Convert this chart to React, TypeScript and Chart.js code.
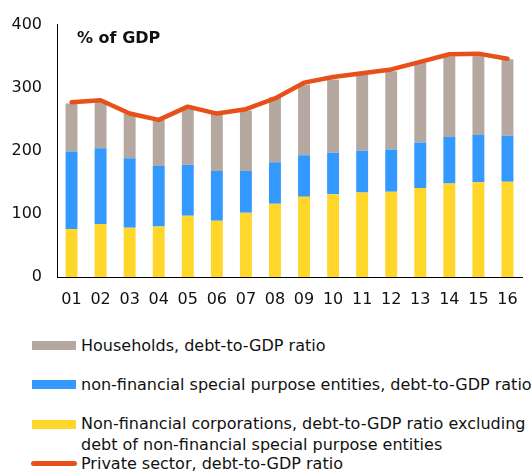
import React, { useEffect, useRef } from 'react';
import { Chart, registerables } from 'chart.js';

Chart.register(...registerables);

const categories = ['01', '02', '03', '04', '05', '06', '07', '08', '09', '10', '11', '12', '13', '14', '15', '16'];
const nfcExSpe = [76, 84, 78, 80, 97, 89, 102, 116, 127, 131, 134, 135, 141, 148, 150, 151];
const nfSpe = [123, 120, 110, 96, 81, 79, 66, 66, 66, 66, 66, 67, 72, 74, 75, 73];
const households = [76, 74, 71, 73, 89, 90, 96, 103, 112, 116, 120, 124, 126, 128, 126, 121];
const privateSector = [277, 280, 259, 249, 270, 259, 266, 283, 308, 317, 323, 329, 341, 353, 354, 346];
const yTicks = [0, 100, 200, 300, 400];

const title = '% of GDP';
const labelHouseholds = 'Households, debt-to-GDP ratio';
const labelSpe = 'non-financial special purpose entities, debt-to-GDP ratio';
const labelNfc = 'Non-financial corporations, debt-to-GDP ratio excluding debt of non-financial special purpose entities';
const labelPrivate = 'Private sector, debt-to-GDP ratio';

const C_GREY = '#B5A8A0';
const C_BLUE = '#3399FF';
const C_YELLOW = '#FFD62A';
const C_ORANGE = '#E8501A';
const FONT = '"DejaVu Sans", sans-serif';

export default function App() {
  const ref = useRef<HTMLCanvasElement | null>(null);

  useEffect(() => {
    if (!ref.current) return;
    const titlePlugin = {
      id: 'titleText',
      afterDraw(chart: any) {
        const ctx = chart.ctx;
        ctx.save();
        ctx.font = 'bold 16px ' + FONT;
        ctx.fillStyle = '#111';
        ctx.textBaseline = 'middle';
        ctx.textAlign = 'left';
        ctx.fillText(title, 77, 39);
        ctx.restore();
      },
    };
    const chart = new Chart(ref.current, {
      type: 'bar',
      data: {
        labels: categories,
        datasets: [
          {
            type: 'line',
            label: labelPrivate,
            data: privateSector,
            borderColor: C_ORANGE,
            backgroundColor: C_ORANGE,
            borderWidth: 4.5,
            pointRadius: 0,
            tension: 0,
            borderCapStyle: 'round',
            borderJoinStyle: 'round',
            order: 0,
          } as any,
          {
            label: labelNfc,
            data: nfcExSpe,
            backgroundColor: C_YELLOW,
            order: 1,
            barPercentage: 0.41,
            categoryPercentage: 1,
          },
          {
            label: labelSpe,
            data: nfSpe,
            backgroundColor: C_BLUE,
            order: 1,
            barPercentage: 0.41,
            categoryPercentage: 1,
          },
          {
            label: labelHouseholds,
            data: households,
            backgroundColor: C_GREY,
            order: 1,
            barPercentage: 0.41,
            categoryPercentage: 1,
          },
        ],
      },
      options: {
        animation: false,
        responsive: false,
        devicePixelRatio: 1,
        layout: { padding: { top: 21, right: 9, left: 0, bottom: 0 } },
        plugins: { legend: { display: false }, tooltip: { enabled: false } },
        scales: {
          x: {
            stacked: true,
            grid: { display: false, drawTicks: false },
            border: { display: true, color: '#000', width: 1 },
            ticks: { font: { family: FONT, size: 16 }, color: '#111', padding: 13, maxRotation: 0 },
            afterFit(scale: any) {
              scale.height = 33;
            },
          },
          y: {
            stacked: true,
            min: 0,
            max: 400,
            grid: { display: false, drawTicks: false },
            border: { display: true, color: '#000', width: 1 },
            afterBuildTicks(scale: any) {
              scale.ticks = yTicks.map((v) => ({ value: v }));
            },
            ticks: { font: { family: FONT, size: 16 }, color: '#111', padding: 15 },
            afterFit(scale: any) {
              scale.width = 57;
            },
          },
        },
      },
      plugins: [titlePlugin],
    } as any);
    return () => chart.destroy();
  }, []);

  const textStyle: React.CSSProperties = {
    position: 'absolute',
    left: 81,
    fontFamily: FONT,
    fontSize: 16,
    lineHeight: '21px',
    color: '#111',
    whiteSpace: 'nowrap',
  };
  const box = (top: number, color: string): React.CSSProperties => ({
    position: 'absolute',
    left: 32,
    top,
    width: 44,
    height: 9,
    background: color,
  });

  return (
    <div style={{ position: 'absolute', left: 0, top: 0, width: 531, height: 472, background: '#fff' }}>
      <canvas ref={ref} width={531} height={310} style={{ display: 'block' }} />
      <div style={box(341, C_GREY)} />
      <div style={{ ...textStyle, top: 335 }}>{labelHouseholds}</div>
      <div style={box(380, C_BLUE)} />
      <div style={{ ...textStyle, top: 374 }}>{labelSpe}</div>
      <div style={box(420, C_YELLOW)} />
      <div style={{ ...textStyle, top: 413 }}>
        {labelNfc.split(' debt of ')[0]}
        <br />
        {'debt of ' + labelNfc.split(' debt of ')[1]}
      </div>
      <div
        style={{
          position: 'absolute',
          left: 31,
          top: 461,
          width: 46,
          height: 5,
          borderRadius: 3,
          background: C_ORANGE,
        }}
      />
      <div style={{ ...textStyle, top: 453 }}>{labelPrivate}</div>
    </div>
  );
}
